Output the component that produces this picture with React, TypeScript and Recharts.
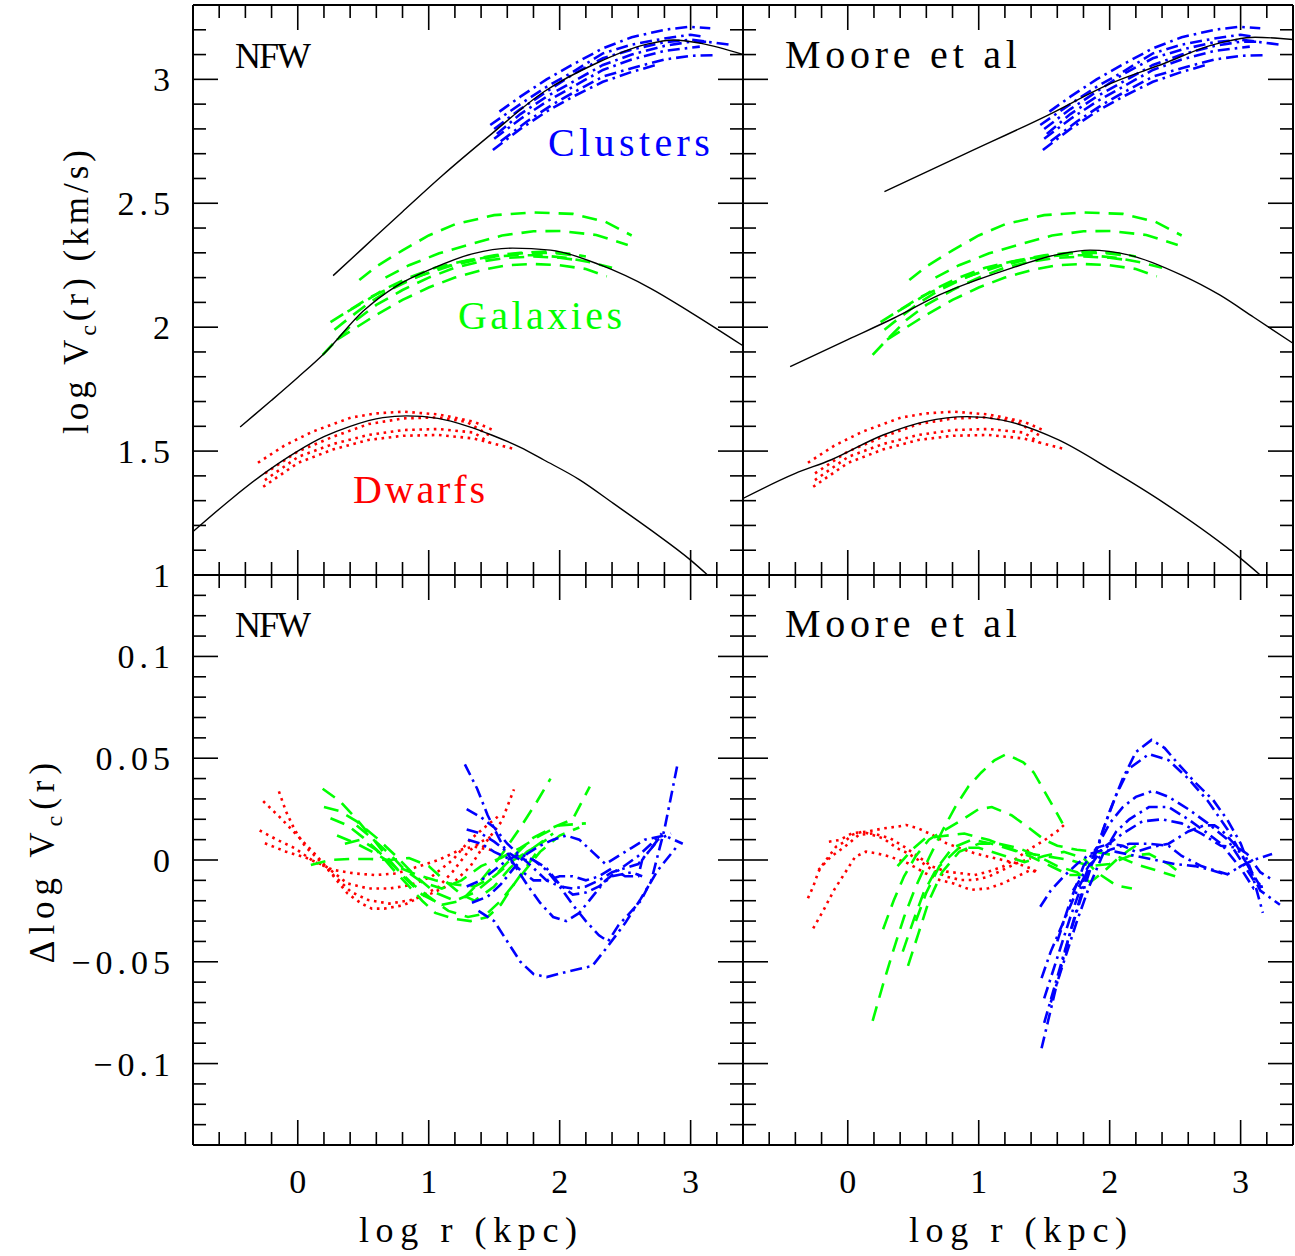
import React from "react";
import { LineChart, Line, XAxis, YAxis, ReferenceDot } from "recharts";

const FONT = "'Liberation Serif', 'Times New Roman', serif";

// ---------- axes
const xTicks = [-0.8, -0.6, -0.4, -0.2, 0, 0.2, 0.4, 0.6, 0.8, 1, 1.2, 1.4, 1.6, 1.8, 2, 2.2, 2.4, 2.6, 2.8, 3, 3.2, 3.4];
const xMajor = [0, 1, 2, 3];
const xLabels = ["0", "1", "2", "3"];

const vcTicks = [1, 1.1, 1.2, 1.3, 1.4, 1.5, 1.6, 1.7, 1.8, 1.9, 2, 2.1, 2.2, 2.3, 2.4, 2.5, 2.6, 2.7, 2.8, 2.9, 3, 3.1, 3.2, 3.3];
const vcMajor = [1, 1.5, 2, 2.5, 3];
const vcLabels = ["1", "1.5", "2", "2.5", "3"];

const dTicks = [-0.14, -0.13, -0.12, -0.11, -0.1, -0.09, -0.08, -0.07, -0.06, -0.05, -0.04, -0.03, -0.02, -0.01, 0,
  0.01, 0.02, 0.03, 0.04, 0.05, 0.06, 0.07, 0.08, 0.09, 0.1, 0.11, 0.12, 0.13, 0.14];
const dMajor = [-0.1, -0.05, 0, 0.05, 0.1];
const dLabels = ["\u22120.1", "\u22120.05", "0", "0.05", "0.1"];

// ---------- fits (log r, log Vc)
const nfwDwarfFit = [[-0.8, 1.175], [-0.5, 1.31], [-0.29, 1.397], [0, 1.5], [0.2, 1.558], [0.4, 1.6], [0.65, 1.635], [0.83, 1.642], [1.07, 1.632], [1.3, 1.6], [1.48, 1.565], [1.7, 1.515], [1.88, 1.464], [2.15, 1.385], [2.41, 1.289], [2.7, 1.18], [3.0, 1.06], [3.13, 1.0]];
const nfwGalaxyFit = [[-0.44, 1.597], [-0.2, 1.705], [0, 1.797], [0.2, 1.893], [0.5, 2.065], [0.75, 2.165], [1.03, 2.237], [1.34, 2.297], [1.64, 2.319], [1.93, 2.311], [2.31, 2.251], [2.69, 2.158], [3.0, 2.06], [3.4, 1.925]];
const nfwClusterFit = [[0.27, 2.208], [0.5, 2.32], [0.8, 2.466], [1.1, 2.61], [1.48, 2.78], [1.88, 2.95], [2.28, 3.065], [2.66, 3.141], [2.87, 3.159], [3.08, 3.145], [3.4, 3.1]];

const mooreDwarfFit = [[-0.8, 1.309], [-0.4, 1.41], [-0.13, 1.464], [0.27, 1.565], [0.59, 1.619], [0.91, 1.639], [1.18, 1.625], [1.61, 1.545], [2.01, 1.424], [2.42, 1.289], [3.0, 1.067], [3.15, 1.0]];
const mooreGalaxyFit = [[-0.44, 1.841], [0, 1.95], [0.35, 2.036], [0.7, 2.13], [1.21, 2.231], [1.61, 2.294], [1.85, 2.311], [2.15, 2.291], [2.55, 2.21], [2.84, 2.13], [3.1, 2.04], [3.4, 1.935]];
const mooreClusterFit = [[0.28, 2.547], [0.9, 2.7], [1.53, 2.856], [2.01, 2.984], [2.42, 3.065], [2.76, 3.135], [3.11, 3.17], [3.4, 3.161]];

// ---------- rotation curves
const dwarf1 = [[-0.304, 1.453], [-0.103, 1.522], [0.111, 1.578], [0.405, 1.635], [0.593, 1.652], [0.807, 1.659], [1.075, 1.648], [1.343, 1.619], [1.504, 1.582]];
const dwarf2 = [[-0.25, 1.41], [0.0, 1.498], [0.27, 1.558], [0.54, 1.609], [0.81, 1.632], [1.07, 1.636], [1.29, 1.618], [1.48, 1.558]];
const dwarf3 = [[-0.251, 1.383], [0.004, 1.477], [0.272, 1.529], [0.539, 1.565], [0.807, 1.585], [1.075, 1.589], [1.343, 1.575], [1.464, 1.534]];
const dwarf4 = [[-0.264, 1.356], [0.004, 1.453], [0.272, 1.507], [0.539, 1.545], [0.807, 1.562], [1.075, 1.565], [1.343, 1.551], [1.664, 1.507]];

const gal1 = [[0.47, 2.19], [0.6, 2.245], [0.8, 2.31], [1.0, 2.37], [1.2, 2.415], [1.5, 2.452], [1.8, 2.463], [2.1, 2.457], [2.35, 2.425], [2.55, 2.37]];
const gal2 = [[0.67, 2.2], [0.85, 2.25], [1.08, 2.298], [1.34, 2.338], [1.56, 2.37], [1.8, 2.387], [2.01, 2.388], [2.28, 2.372], [2.52, 2.332]];
const gal3 = [[0.19, 1.888], [0.3, 1.95], [0.45, 2.03], [0.6, 2.09], [0.8, 2.15], [1.0, 2.2], [1.2, 2.24], [1.4, 2.265], [1.6, 2.28], [1.8, 2.285], [2.0, 2.28], [2.15, 2.27]];
const gal4 = [[0.28, 1.99], [0.4, 2.04], [0.55, 2.1], [0.7, 2.15], [0.9, 2.2], [1.1, 2.24], [1.3, 2.27], [1.5, 2.29], [1.7, 2.3], [1.9, 2.305], [2.1, 2.295], [2.2, 2.285]];
const gal5 = [[0.3, 1.95], [0.45, 2.0], [0.6, 2.05], [0.8, 2.11], [1.0, 2.16], [1.2, 2.2], [1.4, 2.23], [1.6, 2.25], [1.8, 2.255], [2.0, 2.25], [2.2, 2.235], [2.36, 2.205]];
const gal6 = [[0.38, 2.063], [0.5, 2.1], [0.65, 2.15], [0.85, 2.2], [1.05, 2.24], [1.25, 2.265], [1.45, 2.282], [1.65, 2.29], [1.85, 2.29], [2.05, 2.28], [2.25, 2.26], [2.4, 2.24]];
const gal7 = [[0.25, 2.02], [0.4, 2.07], [0.55, 2.12], [0.75, 2.17], [0.95, 2.21], [1.15, 2.245], [1.35, 2.27], [1.55, 2.29], [1.75, 2.3], [1.95, 2.3], [2.1, 2.29]];

const cl1 = [[1.54, 2.87], [1.7, 2.93], [1.9, 3.0], [2.1, 3.06], [2.33, 3.125], [2.55, 3.17], [2.8, 3.2], [2.99, 3.212], [3.15, 3.206]];
const cl2 = [[1.47, 2.816], [1.7, 2.9], [1.9, 2.97], [2.1, 3.03], [2.33, 3.105], [2.55, 3.14], [2.8, 3.165], [3.0, 3.18], [3.1, 3.172]];
const cl3 = [[1.5, 2.8], [1.7, 2.88], [1.9, 2.95], [2.1, 3.02], [2.33, 3.085], [2.55, 3.12], [2.8, 3.15], [3.0, 3.16], [3.3, 3.14]];
const cl4 = [[1.52, 2.78], [1.7, 2.86], [1.9, 2.93], [2.1, 2.99], [2.33, 3.058], [2.55, 3.1], [2.8, 3.135], [3.0, 3.152], [3.15, 3.152]];
const cl5 = [[1.5, 2.76], [1.7, 2.84], [1.9, 2.91], [2.1, 2.97], [2.33, 3.038], [2.55, 3.08], [2.8, 3.115], [3.07, 3.132]];
const cl6 = [[1.55, 2.75], [1.75, 2.83], [1.95, 2.9], [2.15, 2.96], [2.33, 3.011], [2.55, 3.045], [2.8, 3.08], [3.0, 3.095], [3.2, 3.098]];
const cl7 = [[1.49, 2.715], [1.7, 2.8], [1.9, 2.87], [2.1, 2.93], [2.33, 2.99], [2.55, 3.03], [2.75, 3.06]];

// ---------- residuals, NFW
const nfwDwRes1 = [[-0.264, 0.0289], [-0.13, 0.0206], [0.004, 0.0115], [0.138, 0.0025], [0.272, -0.0074], [0.405, -0.0156], [0.539, -0.0197], [0.7, -0.0214], [0.861, -0.0197], [1.022, -0.0164], [1.182, -0.0115], [1.316, -0.0033], [1.45, 0.0099], [1.557, 0.019], [1.651, 0.0347]];
const nfwDwRes2 = [[-0.144, 0.0337], [-0.09, 0.0239], [-0.023, 0.0148], [0.057, 0.0066], [0.138, 0.0016], [0.245, -0.0058], [0.379, -0.0164], [0.486, -0.0214], [0.566, -0.0239], [0.66, -0.0239], [0.807, -0.0222], [0.941, -0.018], [1.075, -0.0132], [1.182, -0.0058], [1.3, 0.004], [1.4, 0.009], [1.48, 0.0115]];
const nfwDwRes3 = [[-0.291, 0.0145], [-0.157, 0.0099], [-0.023, 0.0058], [0.124, -0.0008], [0.272, -0.0049], [0.432, -0.0066], [0.593, -0.0074], [0.754, -0.0066], [0.914, -0.0033], [1.075, 0.0], [1.236, 0.0049], [1.343, 0.0066], [1.477, 0.0049]];
const nfwDwRes4 = [[-0.251, 0.0082], [-0.09, 0.0041], [0.057, 0.0013], [0.218, -0.0033], [0.379, -0.0115], [0.539, -0.014], [0.7, -0.014], [0.861, -0.0123], [1.022, -0.0082], [1.182, 0.0], [1.316, 0.0099], [1.45, 0.0173], [1.53, 0.0214]];

const nfwGalRes1 = [[0.19, 0.035], [0.32, 0.029], [0.45, 0.02], [0.58, 0.01], [0.7, 0.0], [0.82, -0.009], [0.95, -0.017], [1.1, -0.022], [1.25, -0.02], [1.4, -0.01], [1.55, 0.002], [1.7, 0.016], [1.82, 0.028], [1.93, 0.04]];
const nfwGalRes2 = [[0.2, 0.026], [0.32, 0.024], [0.45, 0.019], [0.6, 0.011], [0.75, 0.002], [0.9, -0.008], [1.05, -0.016], [1.2, -0.02], [1.35, -0.016], [1.5, -0.008], [1.65, 0.002], [1.8, 0.011], [1.95, 0.016], [2.1, 0.02], [2.23, 0.036]];
const nfwGalRes3 = [[0.25, 0.0205], [0.38, 0.017], [0.5, 0.011], [0.62, 0.004], [0.75, -0.004], [0.88, -0.012], [1.0, -0.018], [1.15, -0.025], [1.3, -0.028], [1.45, -0.026], [1.55, -0.02], [1.7, -0.008], [1.85, 0.004], [2.0, 0.012], [2.15, 0.016]];
const nfwGalRes4 = [[0.1, -0.0025], [0.25, 0.0], [0.4, 0.0005], [0.55, 0.0005], [0.7, 0.0], [0.85, 0.001], [1.0, -0.003], [1.12, -0.01], [1.25, -0.017], [1.35, -0.02], [1.5, -0.013], [1.62, -0.004], [1.75, 0.004], [1.9, 0.01]];
const nfwGalRes5 = [[0.36, 0.008], [0.48, 0.01], [0.6, 0.005], [0.72, -0.004], [0.85, -0.013], [0.95, -0.02], [1.05, -0.026], [1.2, -0.029], [1.32, -0.03], [1.45, -0.028], [1.55, -0.022], [1.65, -0.012], [1.75, -0.003], [1.85, 0.006]];
const nfwGalRes6 = [[0.45, 0.017], [0.58, 0.01], [0.7, 0.003], [0.82, -0.005], [0.95, -0.011], [1.1, -0.014], [1.25, -0.01], [1.4, -0.003], [1.55, 0.001], [1.7, 0.006], [1.85, 0.012], [2.0, 0.017], [2.2, 0.018]];
const nfwGalRes7 = [[0.3, 0.012], [0.45, 0.008], [0.6, 0.003], [0.75, -0.003], [0.9, -0.007], [1.05, -0.01], [1.2, -0.012], [1.35, -0.013], [1.5, -0.008], [1.65, 0.0], [1.8, 0.006], [1.95, 0.013]];

const nfwClRes1 = [[1.276, 0.047], [1.37, 0.035], [1.45, 0.022], [1.55, 0.009], [1.65, -0.002], [1.75, -0.012], [1.85, -0.021], [1.95, -0.028], [2.05, -0.03], [2.15, -0.026], [2.25, -0.018], [2.35, -0.01], [2.45, -0.005], [2.6, 0.002], [2.7, 0.008], [2.78, 0.013]];
const nfwClRes2 = [[1.38, -0.025], [1.5, -0.03], [1.6, -0.04], [1.7, -0.05], [1.8, -0.056], [1.9, -0.0575], [2.05, -0.055], [2.25, -0.052], [2.36, -0.043], [2.5, -0.031], [2.62, -0.019], [2.75, -0.005], [2.9, 0.007]];
const nfwClRes3 = [[1.29, 0.025], [1.4, 0.021], [1.5, 0.016], [1.6, 0.008], [1.7, 0.002], [1.8, -0.004], [1.9, -0.01], [2.0, -0.013], [2.1, -0.014], [2.2, -0.013], [2.3, -0.01], [2.4, -0.006], [2.5, -0.004], [2.6, -0.002], [2.73, 0.008]];
const nfwClRes4 = [[1.29, 0.015], [1.4, 0.013], [1.5, 0.009], [1.6, 0.004], [1.7, 0.0], [1.8, 0.0], [1.9, -0.004], [2.0, -0.012], [2.1, -0.017], [2.2, -0.016], [2.3, -0.013], [2.4, -0.008], [2.55, -0.006], [2.63, -0.008]];
const nfwClRes5 = [[1.29, -0.013], [1.4, -0.01], [1.5, -0.005], [1.6, 0.0], [1.7, 0.003], [1.8, 0.0], [1.9, -0.005], [2.0, -0.013], [2.1, -0.022], [2.2, -0.03], [2.3, -0.037], [2.37, -0.04], [2.45, -0.032], [2.55, -0.025], [2.62, -0.02], [2.7, -0.01], [2.8, 0.015], [2.9, 0.047]];
const nfwClRes6 = [[1.33, -0.021], [1.45, -0.018], [1.55, -0.012], [1.65, -0.004], [1.75, 0.003], [1.85, 0.007], [1.95, 0.01], [2.05, 0.012], [2.15, 0.01], [2.25, 0.004], [2.35, -0.002], [2.45, 0.002], [2.55, 0.006], [2.65, 0.01], [2.8, 0.012], [2.94, 0.008]];
const nfwClRes7 = [[1.3, 0.01], [1.4, 0.008], [1.5, 0.004], [1.6, 0.001], [1.7, -0.005], [1.8, -0.01], [1.9, -0.01], [2.0, -0.008], [2.1, -0.008], [2.2, -0.01], [2.3, -0.008], [2.4, -0.004], [2.5, -0.008], [2.6, -0.008], [2.63, 0.0], [2.75, 0.01], [2.85, 0.013]];

// ---------- residuals, Moore et al
const mooreDwRes1 = [[-0.304, -0.0188], [-0.264, -0.0131], [-0.224, -0.0057], [-0.184, -0.0016], [-0.09, 0.0065], [-0.023, 0.009], [0.03, 0.0123], [0.111, 0.0139], [0.191, 0.0123], [0.272, 0.0106], [0.379, 0.0057], [0.459, 0.0033], [0.539, 0.0], [0.647, -0.0049], [0.754, -0.0082], [0.861, -0.0098], [0.968, -0.0098], [1.075, -0.0082], [1.182, -0.0049], [1.289, -0.0016], [1.397, 0.0008]];
const mooreDwRes2 = [[-0.264, -0.0336], [-0.184, -0.0245], [-0.104, -0.0147], [-0.023, -0.0065], [0.057, 0.0016], [0.138, 0.0041], [0.218, 0.0033], [0.325, 0.0016], [0.459, -0.0016], [0.593, -0.0065], [0.7, -0.0098], [0.807, -0.0115], [0.941, -0.0147], [1.075, -0.0139], [1.182, -0.0115], [1.289, -0.0082], [1.397, -0.0049], [1.464, -0.0065]];
const mooreDwRes3 = [[-0.144, 0.009], [-0.063, 0.0098], [0.03, 0.0131], [0.138, 0.0139], [0.272, 0.0155], [0.379, 0.0164], [0.446, 0.0172], [0.539, 0.0155], [0.647, 0.0123], [0.754, 0.0082], [0.861, 0.0057], [0.968, 0.0033], [1.075, 0.0016], [1.182, 0.0], [1.289, -0.0016], [1.397, -0.0041], [1.464, -0.0065]];
const mooreDwRes4 = [[-0.224, -0.0049], [-0.13, 0.0016], [-0.023, 0.0065], [0.084, 0.0123], [0.191, 0.0131], [0.325, 0.0106], [0.432, 0.0065], [0.539, 0.0016], [0.647, -0.0033], [0.754, -0.0057], [0.861, -0.0065], [0.968, -0.0074], [1.075, -0.0057], [1.182, -0.0033], [1.289, 0.0008], [1.397, 0.0057], [1.504, 0.0098], [1.611, 0.0147], [1.664, 0.018]];

const mooreGalRes1 = [[0.19, -0.079], [0.27, -0.061], [0.35, -0.044], [0.43, -0.028], [0.52, -0.013], [0.62, 0.001], [0.72, 0.014], [0.82, 0.026], [0.92, 0.036], [1.02, 0.043], [1.12, 0.049], [1.21, 0.052], [1.34, 0.048], [1.42, 0.043], [1.5, 0.034], [1.58, 0.025], [1.64, 0.018]];
const mooreGalRes2 = [[0.27, -0.034], [0.35, -0.02], [0.43, -0.008], [0.52, 0.002], [0.62, 0.01], [0.75, 0.015], [0.88, 0.02], [1.0, 0.025], [1.1, 0.026], [1.25, 0.022], [1.38, 0.016], [1.5, 0.01], [1.6, 0.007], [1.75, 0.005], [1.9, 0.004], [2.05, 0.002], [2.2, -0.002], [2.35, -0.005], [2.5, -0.008]];
const mooreGalRes3 = [[0.38, -0.003], [0.49, 0.005], [0.59, 0.0106], [0.73, 0.0118], [0.89, 0.013], [1.08, 0.0098], [1.24, 0.0057], [1.4, 0.0016], [1.56, -0.0033], [1.69, -0.0074], [1.8, -0.0074]];
const mooreGalRes4 = [[0.42, -0.045], [0.5, -0.03], [0.58, -0.016], [0.68, -0.004], [0.8, 0.006], [0.95, 0.01], [1.1, 0.008], [1.3, 0.004], [1.5, 0.002], [1.7, 0.0], [1.85, -0.003], [2.0, -0.002], [2.15, 0.002], [2.3, 0.003], [2.45, -0.002], [2.55, -0.007]];
const mooreGalRes5 = [[0.46, -0.052], [0.54, -0.036], [0.62, -0.02], [0.72, -0.006], [0.85, 0.004], [1.0, 0.008], [1.15, 0.008], [1.3, 0.006], [1.45, 0.002], [1.6, -0.003], [1.75, -0.006], [1.85, -0.011], [1.95, -0.006], [2.05, 0.0], [2.15, 0.005], [2.2, 0.007]];
const mooreGalRes6 = [[0.52, -0.03], [0.6, -0.016], [0.7, -0.003], [0.85, 0.006], [1.0, 0.006], [1.2, 0.002], [1.35, -0.001], [1.5, 0.002], [1.65, 0.004], [1.8, 0.001], [1.9, -0.006], [2.05, -0.0125], [2.17, -0.014]];

const mooreClRes1 = [[1.48, -0.0925], [1.53, -0.079], [1.6, -0.06], [1.7, -0.035], [1.8, -0.013], [1.9, 0.005], [2.0, 0.024], [2.1, 0.04], [2.2, 0.053], [2.32, 0.059], [2.42, 0.055], [2.52, 0.0475], [2.66, 0.0376], [2.79, 0.0295], [2.9, 0.0196], [3.0, 0.0082], [3.08, -0.005], [3.17, -0.026]];
const mooreClRes2 = [[1.5, -0.08], [1.58, -0.062], [1.66, -0.044], [1.75, -0.025], [1.85, -0.005], [1.95, 0.015], [2.05, 0.032], [2.15, 0.045], [2.3, 0.052], [2.45, 0.049], [2.6, 0.04], [2.75, 0.029], [2.9, 0.015], [3.05, -0.002], [3.15, -0.015], [3.3, -0.022]];
const mooreClRes3 = [[1.5, -0.068], [1.6, -0.048], [1.7, -0.028], [1.8, -0.01], [1.9, 0.006], [2.0, 0.018], [2.1, 0.026], [2.2, 0.031], [2.33, 0.034], [2.45, 0.031], [2.6, 0.025], [2.75, 0.018], [2.9, 0.01], [3.0, 0.0], [3.1, -0.01], [3.15, -0.012]];
const mooreClRes4 = [[1.55, -0.07], [1.65, -0.05], [1.75, -0.03], [1.85, -0.012], [1.95, 0.003], [2.05, 0.014], [2.15, 0.02], [2.3, 0.026], [2.45, 0.026], [2.6, 0.02], [2.75, 0.013], [2.85, 0.008], [3.0, -0.004], [3.1, -0.014], [3.17, -0.013]];
const mooreClRes5 = [[1.48, -0.058], [1.55, -0.045], [1.65, -0.03], [1.75, -0.015], [1.85, -0.003], [1.95, 0.006], [2.1, 0.013], [2.25, 0.019], [2.4, 0.02], [2.55, 0.018], [2.7, 0.013], [2.85, 0.007], [2.98, 0.006], [3.05, 0.003], [3.15, -0.006], [3.25, -0.01]];
const mooreClRes6 = [[1.6, -0.04], [1.7, -0.02], [1.8, -0.003], [1.9, 0.006], [2.0, 0.008], [2.1, 0.007], [2.2, 0.004], [2.3, 0.006], [2.45, 0.008], [2.6, 0.014], [2.72, 0.017], [2.8, 0.017], [2.85, 0.015], [2.95, 0.008], [3.05, -0.002], [3.15, -0.013], [3.2, -0.013]];
const mooreClRes7 = [[1.72, -0.015], [1.85, -0.002], [2.0, 0.005], [2.15, 0.008], [2.3, 0.008], [2.45, 0.007], [2.55, 0.002], [2.7, -0.003], [2.9, -0.007], [3.0, -0.003], [3.1, 0.0], [3.24, 0.003]];
const mooreClRes8 = [[1.47, -0.023], [1.55, -0.015], [1.65, -0.008], [1.75, -0.002], [1.85, 0.003], [1.95, 0.005], [2.05, 0.004], [2.2, 0.002], [2.35, 0.0], [2.5, -0.002], [2.65, -0.003], [2.78, -0.005], [2.9, -0.0074]];

// ---------- styles
const FIT = { stroke: "#000000", strokeWidth: 1.4, type: "monotone" };
const DOTTED = { stroke: "#ff0000", strokeWidth: 2.6, strokeDasharray: "2.6 4.6", type: "linear" };
const DASHED = { stroke: "#00ff00", strokeWidth: 2.6, strokeDasharray: "15 9", type: "linear" };
const DASHDOT = { stroke: "#0000ff", strokeWidth: 2.6, strokeDasharray: "12 5 2.6 5", type: "linear" };

const PLOT_W = 550;
const PLOT_H = 570;

const rows = (pts: number[][]) => pts.map(([x, y]) => ({ x, y }));

// ticks point into the plot; frame edges are given in chart pixels
function tickRenderer(side: string, edge: number, majors: number[], labels: string[] | null) {
  return (props: any) => {
    const { payload } = props;
    const i = majors.findIndex((m) => Math.abs(m - payload.value) < 1e-6);
    const len = i >= 0 ? 25 : 13;
    const label = labels && i >= 0 ? labels[i] : null;
    if (side === "bottom" || side === "top") {
      const x = props.x;
      const y2 = side === "bottom" ? edge - len : edge + len;
      return (
        <g>
          <line x1={x} y1={edge} x2={x} y2={y2} stroke="#000" strokeWidth={1.6} />
          {label !== null && (
            <text x={x + 2} y={edge + 48} textAnchor="middle" fontFamily={FONT} fontSize={34} letterSpacing={4} fill="#000">
              {label}
            </text>
          )}
        </g>
      );
    }
    const y = props.y;
    const x2 = side === "left" ? edge + len : edge - len;
    return (
      <g>
        <line x1={edge} y1={y} x2={x2} y2={y} stroke="#000" strokeWidth={1.6} />
        {label !== null && (
          <text x={edge - 18} y={y + 12} textAnchor="end" fontFamily={FONT} fontSize={34} letterSpacing={5} fill="#000">
            {label}
          </text>
        )}
      </g>
    );
  };
}

function XTitle(props: any) {
  const vb = props.viewBox;
  if (!vb) return null;
  return (
    <text x={vb.x + vb.width / 2} y={vb.y + 97} textAnchor="middle" fontFamily={FONT} fontSize={36} textLength={218} lengthAdjust="spacing" fill="#000">
      log r (kpc)
    </text>
  );
}

function YTitle(props: any) {
  const vb = props.viewBox;
  if (!vb) return null;
  const cx = props.base;
  const cy = vb.y + vb.height / 2;
  return (
    <text transform={`translate(${cx},${cy}) rotate(-90)`} textAnchor="middle" fontFamily={FONT} fontSize={35} letterSpacing={props.spacing} fill="#000">
      {props.pre}log V
      <tspan dy={8} fontSize={24}>c</tspan>
      <tspan dy={-8}>(r){props.post}</tspan>
    </text>
  );
}

function Caption(props: any) {
  const { cx, cy, text, color, size, length } = props;
  return (
    <text x={cx} y={cy} fill={color} fontFamily={FONT} fontSize={size} textLength={length} lengthAdjust="spacing">
      {text}
    </text>
  );
}

type Group = { curves: number[][][]; style: any };
type Note = { x: number; y: number; text: string; color: string; size: number; length: number };

function Panel(props: {
  left: number;
  top: number;
  marginTop: number;
  marginBottom: number;
  leftW: number;
  bottomH: number;
  yDomain: number[];
  yTicks: number[];
  yMajor: number[];
  yLabels: string[] | null;
  xLabels: string[] | null;
  yTitle?: any;
  xTitle?: any;
  groups: Group[];
  notes: Note[];
}) {
  const p = props;
  const axisLine = { stroke: "#000", strokeWidth: 2 };
  const leftEdge = p.leftW;
  const rightEdge = p.leftW + PLOT_W;
  const topEdge = p.marginTop + 1;
  const bottomEdge = topEdge + PLOT_H;
  const width = rightEdge + 1;
  const height = bottomEdge + p.bottomH + p.marginBottom;
  const lines: any[] = [];
  p.groups.forEach((g, gi) =>
    g.curves.forEach((c, ci) =>
      lines.push(
        <Line
          key={`l${gi}-${ci}`}
          xAxisId="b"
          yAxisId="l"
          data={rows(c)}
          dataKey="y"
          dot={false}
          activeDot={false}
          isAnimationActive={false}
          fill="none"
          strokeLinecap="butt"
          {...g.style}
        />
      )
    )
  );
  return (
    <div style={{ position: "absolute", left: p.left, top: p.top }}>
      <LineChart width={width} height={height} margin={{ top: p.marginTop, right: 0, bottom: p.marginBottom, left: 0 }}>
        <XAxis
          xAxisId="b"
          type="number"
          dataKey="x"
          orientation="bottom"
          domain={[-0.8, 3.4]}
          allowDataOverflow
          ticks={xTicks}
          interval={0}
          tickSize={0}
          tickMargin={0}
          tickLine={false}
          axisLine={axisLine}
          height={p.bottomH}
          tick={tickRenderer("bottom", bottomEdge, xMajor, p.xLabels)}
          label={p.xTitle}
        />
        <XAxis
          xAxisId="t"
          type="number"
          dataKey="x"
          orientation="top"
          domain={[-0.8, 3.4]}
          allowDataOverflow
          ticks={xTicks}
          interval={0}
          tickSize={0}
          tickMargin={0}
          tickLine={false}
          axisLine={axisLine}
          height={1}
          tick={tickRenderer("top", topEdge, xMajor, null)}
        />
        <YAxis
          yAxisId="l"
          type="number"
          orientation="left"
          domain={p.yDomain}
          allowDataOverflow
          ticks={p.yTicks}
          interval={0}
          tickSize={0}
          tickMargin={0}
          tickLine={false}
          axisLine={axisLine}
          width={p.leftW}
          tick={tickRenderer("left", leftEdge, p.yMajor, p.yLabels)}
          label={p.yTitle}
        />
        <YAxis
          yAxisId="r"
          type="number"
          orientation="right"
          domain={p.yDomain}
          allowDataOverflow
          ticks={p.yTicks}
          interval={0}
          tickSize={0}
          tickMargin={0}
          tickLine={false}
          axisLine={axisLine}
          width={1}
          tick={tickRenderer("right", rightEdge, p.yMajor, null)}
        />
        {lines}
        {p.notes.map((n, i) => (
          <ReferenceDot
            key={`n${i}`}
            xAxisId="b"
            yAxisId="l"
            x={n.x}
            y={n.y}
            r={1}
            shape={(sp: any) => <Caption {...sp} text={n.text} color={n.color} size={n.size} length={n.length} />}
          />
        ))}
      </LineChart>
    </div>
  );
}

const dwarfData = [dwarf1, dwarf2, dwarf3, dwarf4];
const galaxyData = [gal1, gal2, gal3, gal4, gal5, gal6, gal7];
const clusterData = [cl1, cl2, cl3, cl4, cl5, cl6, cl7];

export default function App() {
  const topY = [1, 3.3];
  const botY = [-0.14, 0.14];
  return (
    <div style={{ position: "absolute", left: 0, top: 0, width: 1295, height: 1256, background: "#fff", overflow: "hidden" }}>
      <Panel
        left={0}
        top={0}
        marginTop={4}
        marginBottom={24}
        leftW={193}
        bottomH={1}
        yDomain={topY}
        yTicks={vcTicks}
        yMajor={vcMajor}
        yLabels={vcLabels}
        xLabels={null}
        yTitle={<YTitle base={88} pre="" post="  (km/s)" spacing={4} />}
        groups={[
          { curves: dwarfData, style: DOTTED },
          { curves: galaxyData, style: DASHED },
          { curves: clusterData, style: DASHDOT },
          { curves: [nfwDwarfFit, nfwGalaxyFit, nfwClusterFit], style: FIT },
        ]}
        notes={[
          { x: -0.48, y: 3.046, text: "NFW", color: "#000", size: 36, length: 76 },
          { x: 1.91, y: 2.69, text: "Clusters", color: "#0000ff", size: 40, length: 162 },
          { x: 1.224, y: 1.993, text: "Galaxies", color: "#00ff00", size: 40, length: 164 },
          { x: 0.422, y: 1.292, text: "Dwarfs", color: "#ff0000", size: 40, length: 132 },
        ]}
      />
      <Panel
        left={742}
        top={0}
        marginTop={4}
        marginBottom={0}
        leftW={1}
        bottomH={1}
        yDomain={topY}
        yTicks={vcTicks}
        yMajor={vcMajor}
        yLabels={null}
        xLabels={null}
        groups={[
          { curves: dwarfData, style: DOTTED },
          { curves: galaxyData, style: DASHED },
          { curves: clusterData, style: DASHDOT },
          { curves: [mooreDwarfFit, mooreGalaxyFit, mooreClusterFit], style: FIT },
        ]}
        notes={[{ x: -0.48, y: 3.046, text: "Moore et al", color: "#000", size: 40, length: 232 }]}
      />
      <Panel
        left={0}
        top={574}
        marginTop={0}
        marginBottom={0}
        leftW={193}
        bottomH={111}
        yDomain={botY}
        yTicks={dTicks}
        yMajor={dMajor}
        yLabels={dLabels}
        xLabels={xLabels}
        xTitle={<XTitle />}
        yTitle={<YTitle base={54} pre={"\u0394"} post="" spacing={6} />}
        groups={[
          { curves: [nfwDwRes1, nfwDwRes2, nfwDwRes3, nfwDwRes4], style: DOTTED },
          { curves: [nfwGalRes1, nfwGalRes2, nfwGalRes3, nfwGalRes4, nfwGalRes5, nfwGalRes6, nfwGalRes7], style: DASHED },
          { curves: [nfwClRes1, nfwClRes2, nfwClRes3, nfwClRes4, nfwClRes5, nfwClRes6, nfwClRes7], style: DASHDOT },
        ]}
        notes={[{ x: -0.48, y: 0.1095, text: "NFW", color: "#000", size: 36, length: 76 }]}
      />
      <Panel
        left={742}
        top={574}
        marginTop={0}
        marginBottom={0}
        leftW={1}
        bottomH={111}
        yDomain={botY}
        yTicks={dTicks}
        yMajor={dMajor}
        yLabels={null}
        xLabels={xLabels}
        xTitle={<XTitle />}
        groups={[
          { curves: [mooreDwRes1, mooreDwRes2, mooreDwRes3, mooreDwRes4], style: DOTTED },
          { curves: [mooreGalRes1, mooreGalRes2, mooreGalRes3, mooreGalRes4, mooreGalRes5, mooreGalRes6], style: DASHED },
          { curves: [mooreClRes1, mooreClRes2, mooreClRes3, mooreClRes4, mooreClRes5, mooreClRes6, mooreClRes7, mooreClRes8], style: DASHDOT },
        ]}
        notes={[{ x: -0.48, y: 0.1095, text: "Moore et al", color: "#000", size: 40, length: 232 }]}
      />
    </div>
  );
}
